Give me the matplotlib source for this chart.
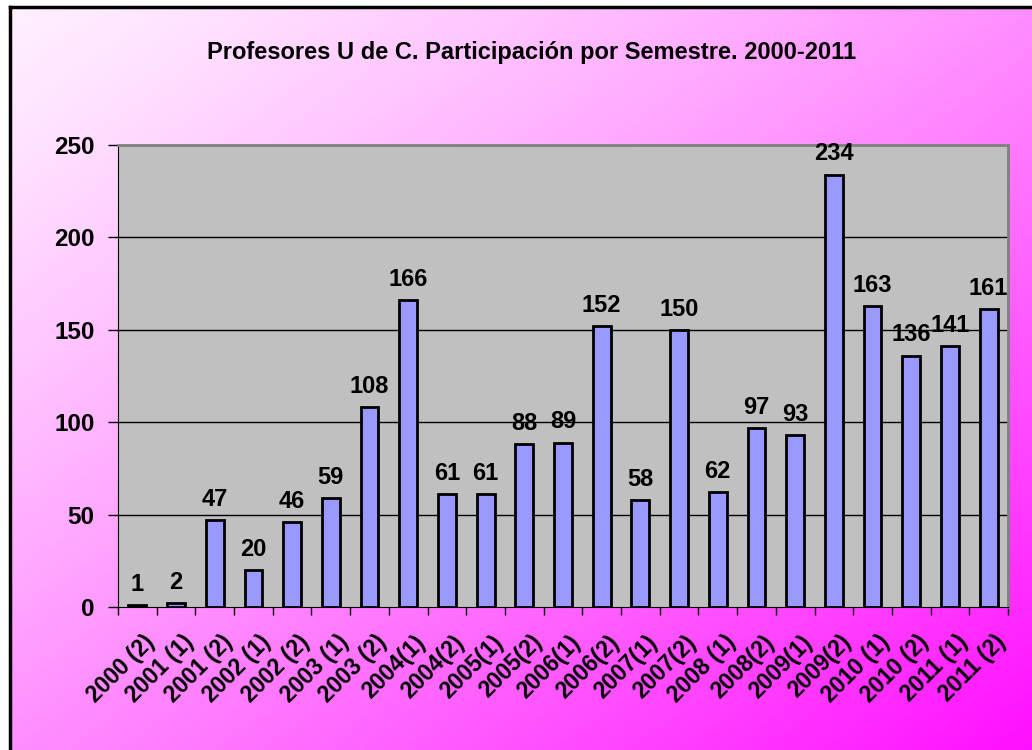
import numpy as np
import matplotlib.pyplot as plt

semesters = ["2000 (2)", "2001 (1)", "2001 (2)", "2002 (1)", "2002 (2)", "2003 (1)",
             "2003 (2)", "2004(1)", "2004(2)", "2005(1)", "2005(2)", "2006(1)",
             "2006(2)", "2007(1)", "2007(2)", "2008 (1)", "2008(2)", "2009(1)",
             "2009(2)", "2010 (1)", "2010 (2)", "2011 (1)", "2011 (2)"]
profesores = [1, 2, 47, 20, 46, 59, 108, 166, 61, 61, 88, 89, 152, 58, 150, 62, 97, 93,
              234, 163, 136, 141, 161]
yticks = [0, 50, 100, 150, 200, 250]

plt.rcParams['font.family'] = ['Liberation Sans', 'DejaVu Sans']

W, H = 1032, 750
fig = plt.figure(figsize=(W / 100, H / 100), dpi=100, facecolor='white')

# diagonal pink -> magenta background with frame
bg = fig.add_axes([10 / W, 0, 1 - 10 / W, 1 - 7 / H], zorder=0)
ny, nx = 200, 280
xx, yy = np.meshgrid(np.linspace(0, 1, nx), np.linspace(0, 1, ny))
t = (xx + yy) / 2
img = np.zeros((ny, nx, 3))
img[..., 0] = 1.0
img[..., 1] = np.clip(0.94 - 0.88 * t ** 1.2, 0, 1)
img[..., 2] = 1.0
bg.imshow(img, aspect='auto', extent=[0, 1, 0, 1], origin='upper')
bg.set_xticks([])
bg.set_yticks([])
for side in ['right', 'bottom']:
    bg.spines[side].set_visible(False)
for side in ['left', 'top']:
    bg.spines[side].set_linewidth(2.5)
    bg.spines[side].set_color('black')

ax = fig.add_axes([118 / W, 1 - 607 / H, (1008 - 118) / W, (607 - 145) / H], zorder=1)
ax.set_facecolor('#c0c0c0')
x = np.arange(len(semesters))
ax.bar(x, profesores, width=0.46, color='#9999ff', edgecolor='black', linewidth=2, zorder=3)
for xi, v in zip(x, profesores):
    ax.text(xi, v + 5, str(v), ha='center', va='bottom', fontsize=17, fontweight='bold', zorder=4)

ax.set_xlim(-0.5, len(semesters) - 0.5)
ax.set_ylim(0, 250)
ax.set_yticks(yticks)
ax.set_yticklabels([str(v) for v in yticks], fontsize=17.5, fontweight='bold')
ax.set_xticks(np.arange(len(semesters) + 1) - 0.5, minor=False)
ax.set_xticklabels([])
ax.set_xticks(x + 0.15, minor=True)
ax.set_xticklabels(semesters, minor=True, rotation=45, ha='right', rotation_mode='anchor',
                   fontsize=16.5, fontweight='bold')
ax.tick_params(axis='x', which='minor', length=0, pad=17)
ax.tick_params(axis='x', which='major', length=6, width=1, direction='out')
ax.tick_params(axis='y', length=7, width=1, direction='out', pad=10)
for yv in yticks[1:-1]:
    ax.axhline(yv, color='black', linewidth=1, zorder=1)
for side in ['top', 'right']:
    ax.spines[side].set_color('#808080')
    ax.spines[side].set_linewidth(2)
ax.spines['left'].set_color('black')
ax.spines['bottom'].set_color('black')

fig.text(532 / W, 1 - 52 / H, "Profesores U de C. Participación por Semestre. 2000-2011",
         ha='center', va='center', fontsize=17, fontweight='bold', zorder=5)

fig.savefig('out.png', dpi=100)
